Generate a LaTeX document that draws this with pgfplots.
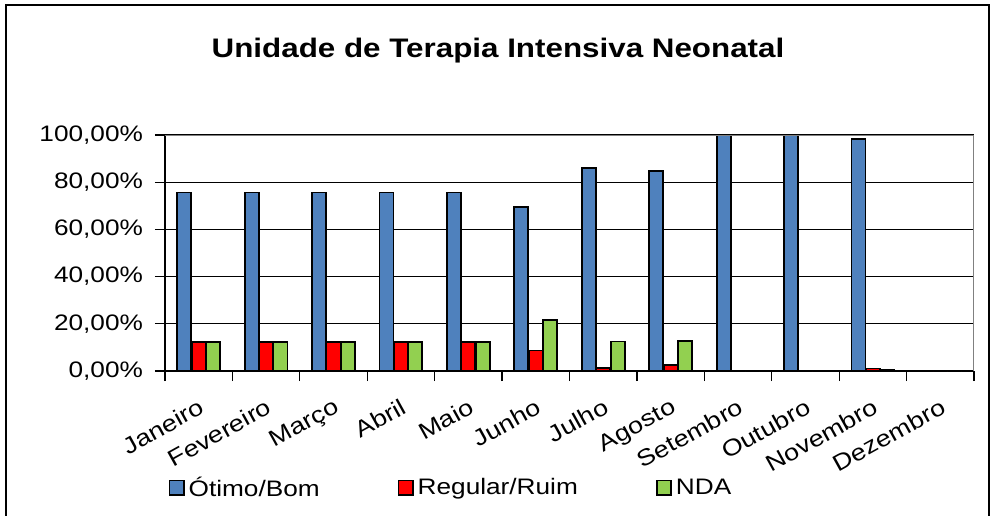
\documentclass[border=0pt]{standalone}
\usepackage{fontspec}
\setmainfont{Liberation Sans}[FakeStretch=1.17]
\usepackage{pgfplots}
\pgfplotsset{compat=1.18}
\definecolor{cblue}{HTML}{4F81BD}
\definecolor{cred}{HTML}{FF0000}
\definecolor{cgreen}{HTML}{92D050}
\begin{document}
\begin{tikzpicture}
\path[use as bounding box] (-82.5pt,-72pt) rectangle (413.5pt,185.5pt);
\draw[black, line width=0.75pt] (-79.5pt,-80pt) -- (-79.5pt,183pt) -- (412pt,183pt) -- (412pt,-80pt);
\node[font=\fontsize{13.4}{16}\selectfont\bfseries, anchor=base] at (166.5pt,157pt) {Unidade de Terapia Intensiva Neonatal};
\begin{axis}[
  at={(0pt,0pt)}, anchor=south west,
  scale only axis, width=404.5pt, height=118pt,
  ybar=0.2pt, bar width=7pt,
  xmin=-0.5, xmax=11.5, ymin=0, ymax=100,
  axis x line*=bottom, axis y line*=left,
  axis line style={-, black, line width=0.7pt},
  xtick={0,...,11},
  xticklabels={Janeiro,Fevereiro,Março,Abril,Maio,Junho,Julho,Agosto,Setembro,Outubro,Novembro,Dezembro},
  minor xtick={-0.5,0.5,...,11.5},
  major x tick style={draw=none},
  tick align=outside, major tick length=5pt, minor tick length=5pt,
  tick style={black, line width=0.6pt},
  ytick={0,20,...,100},
  yticklabels={{0,00\%},{20,00\%},{40,00\%},{60,00\%},{80,00\%},{100,00\%}},
  ymajorgrids, grid style={black, line width=0.6pt},
  yticklabel style={font=\fontsize{11.2}{13}\selectfont, xshift=-2.5pt},
  xticklabel style={font=\fontsize{11.5}{13}\selectfont, rotate=29, anchor=north east, yshift=-3.5pt, xshift=-1pt},
  legend style={draw=none, fill=none, at={(0.004,-0.495)}, anchor=west, inner sep=0pt,
    legend columns=3, font=\fontsize{11.2}{13}\selectfont,
    /tikz/every even column/.append style={column sep=37pt}},
  legend image code/.code={\draw[#1, line width=0.8pt] (0pt,-3.6pt) rectangle (7.2pt,3.6pt);},
  every axis plot/.append style={draw=black, line width=0.9pt},
]
\addplot[fill=cblue] coordinates {(0,75.6) (1,75.6) (2,75.6) (3,75.6) (4,75.6) (5,69.6) (6,86.1) (7,84.6) (8,100) (9,100) (10,98.4) (11,0)};
\addplot[fill=cred] coordinates {(0,12.2) (1,12.2) (2,12.2) (3,12.2) (4,12.2) (5,8.7) (6,1.4) (7,2.6) (8,0) (9,0) (10,1.1) (11,0)};
\addplot[fill=cgreen] coordinates {(0,12.2) (1,12.2) (2,12.2) (3,12.2) (4,12.2) (5,21.7) (6,12.5) (7,12.8) (8,0) (9,0) (10,0.5) (11,0)};
\legend{Ótimo/Bom,Regular/Ruim,NDA}
\draw[gray, line width=0.7pt] (rel axis cs:0,1) -- (rel axis cs:1,1) -- (rel axis cs:1,0);
\end{axis}
\end{tikzpicture}
\end{document}
